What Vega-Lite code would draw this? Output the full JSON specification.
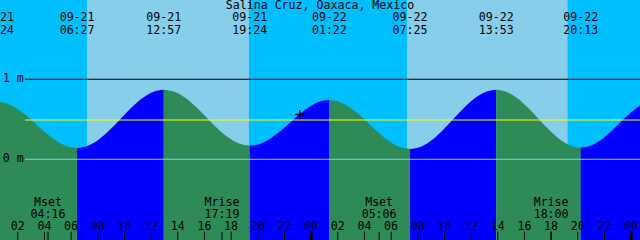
{
  "$schema": "https://vega.github.io/schema/vega-lite/v6.json",
  "width": 640,
  "height": 240,
  "padding": 0,
  "autosize": "none",
  "background": "#00BFFF",
  "config": {
    "view": {"stroke": null},
    "text": {"font": "DejaVu Sans Mono", "fontSize": 11.6, "color": "black"}
  },
  "datasets": {
    "tide": [
      {"h": 0.40, "v": 0.72, "seg": 1, "dir": "fall"},
      {"h": 1.16, "v": 0.698, "seg": 1, "dir": "fall"},
      {"h": 1.91, "v": 0.635, "seg": 1, "dir": "fall"},
      {"h": 2.67, "v": 0.541, "seg": 1, "dir": "fall"},
      {"h": 3.43, "v": 0.43, "seg": 1, "dir": "fall"},
      {"h": 4.18, "v": 0.319, "seg": 1, "dir": "fall"},
      {"h": 4.94, "v": 0.225, "seg": 1, "dir": "fall"},
      {"h": 5.69, "v": 0.162, "seg": 1, "dir": "fall"},
      {"h": 6.45, "v": 0.14, "seg": 1, "dir": "fall"},
      {"h": 6.45, "v": 0.14, "seg": 2, "dir": "rise"},
      {"h": 7.26, "v": 0.168, "seg": 2, "dir": "rise"},
      {"h": 8.08, "v": 0.247, "seg": 2, "dir": "rise"},
      {"h": 8.89, "v": 0.365, "seg": 2, "dir": "rise"},
      {"h": 9.70, "v": 0.505, "seg": 2, "dir": "rise"},
      {"h": 10.51, "v": 0.645, "seg": 2, "dir": "rise"},
      {"h": 11.33, "v": 0.763, "seg": 2, "dir": "rise"},
      {"h": 12.14, "v": 0.842, "seg": 2, "dir": "rise"},
      {"h": 12.95, "v": 0.87, "seg": 2, "dir": "rise"},
      {"h": 12.95, "v": 0.87, "seg": 3, "dir": "fall"},
      {"h": 13.76, "v": 0.843, "seg": 3, "dir": "fall"},
      {"h": 14.56, "v": 0.768, "seg": 3, "dir": "fall"},
      {"h": 15.37, "v": 0.654, "seg": 3, "dir": "fall"},
      {"h": 16.18, "v": 0.52, "seg": 3, "dir": "fall"},
      {"h": 16.98, "v": 0.386, "seg": 3, "dir": "fall"},
      {"h": 17.79, "v": 0.272, "seg": 3, "dir": "fall"},
      {"h": 18.59, "v": 0.197, "seg": 3, "dir": "fall"},
      {"h": 19.40, "v": 0.17, "seg": 3, "dir": "fall"},
      {"h": 19.40, "v": 0.17, "seg": 4, "dir": "rise"},
      {"h": 20.15, "v": 0.192, "seg": 4, "dir": "rise"},
      {"h": 20.89, "v": 0.253, "seg": 4, "dir": "rise"},
      {"h": 21.64, "v": 0.346, "seg": 4, "dir": "rise"},
      {"h": 22.39, "v": 0.455, "seg": 4, "dir": "rise"},
      {"h": 23.13, "v": 0.564, "seg": 4, "dir": "rise"},
      {"h": 23.88, "v": 0.657, "seg": 4, "dir": "rise"},
      {"h": 24.62, "v": 0.718, "seg": 4, "dir": "rise"},
      {"h": 25.37, "v": 0.74, "seg": 4, "dir": "rise"},
      {"h": 25.37, "v": 0.74, "seg": 5, "dir": "fall"},
      {"h": 26.13, "v": 0.717, "seg": 5, "dir": "fall"},
      {"h": 26.88, "v": 0.651, "seg": 5, "dir": "fall"},
      {"h": 27.64, "v": 0.552, "seg": 5, "dir": "fall"},
      {"h": 28.40, "v": 0.435, "seg": 5, "dir": "fall"},
      {"h": 29.15, "v": 0.318, "seg": 5, "dir": "fall"},
      {"h": 29.91, "v": 0.219, "seg": 5, "dir": "fall"},
      {"h": 30.66, "v": 0.153, "seg": 5, "dir": "fall"},
      {"h": 31.42, "v": 0.13, "seg": 5, "dir": "fall"},
      {"h": 31.42, "v": 0.13, "seg": 6, "dir": "rise"},
      {"h": 32.23, "v": 0.158, "seg": 6, "dir": "rise"},
      {"h": 33.04, "v": 0.238, "seg": 6, "dir": "rise"},
      {"h": 33.84, "v": 0.358, "seg": 6, "dir": "rise"},
      {"h": 34.65, "v": 0.50, "seg": 6, "dir": "rise"},
      {"h": 35.46, "v": 0.642, "seg": 6, "dir": "rise"},
      {"h": 36.27, "v": 0.762, "seg": 6, "dir": "rise"},
      {"h": 37.07, "v": 0.842, "seg": 6, "dir": "rise"},
      {"h": 37.88, "v": 0.87, "seg": 6, "dir": "rise"},
      {"h": 37.88, "v": 0.87, "seg": 7, "dir": "fall"},
      {"h": 38.67, "v": 0.842, "seg": 7, "dir": "fall"},
      {"h": 39.47, "v": 0.764, "seg": 7, "dir": "fall"},
      {"h": 40.26, "v": 0.646, "seg": 7, "dir": "fall"},
      {"h": 41.05, "v": 0.508, "seg": 7, "dir": "fall"},
      {"h": 41.84, "v": 0.369, "seg": 7, "dir": "fall"},
      {"h": 42.64, "v": 0.251, "seg": 7, "dir": "fall"},
      {"h": 43.43, "v": 0.173, "seg": 7, "dir": "fall"},
      {"h": 44.22, "v": 0.145, "seg": 7, "dir": "fall"},
      {"h": 44.22, "v": 0.145, "seg": 8, "dir": "rise"},
      {"h": 44.94, "v": 0.168, "seg": 8, "dir": "rise"},
      {"h": 45.67, "v": 0.234, "seg": 8, "dir": "rise"},
      {"h": 46.39, "v": 0.332, "seg": 8, "dir": "rise"},
      {"h": 47.11, "v": 0.448, "seg": 8, "dir": "rise"},
      {"h": 47.83, "v": 0.563, "seg": 8, "dir": "rise"},
      {"h": 48.56, "v": 0.661, "seg": 8, "dir": "rise"},
      {"h": 49.28, "v": 0.727, "seg": 8, "dir": "rise"},
      {"h": 50.0, "v": 0.75, "seg": 8, "dir": "rise"}
    ],
    "sky": [
      {"start": 0.0, "end": 7.19, "period": "night"},
      {"start": 7.19, "end": 19.34, "period": "day"},
      {"start": 19.34, "end": 31.19, "period": "night"},
      {"start": 31.19, "end": 43.25, "period": "day"},
      {"start": 43.25, "end": 50.0, "period": "night"}
    ],
    "events": [
      {"h": 0.40, "date": "09-21", "time": "00:24"},
      {"h": 6.45, "date": "09-21", "time": "06:27"},
      {"h": 12.95, "date": "09-21", "time": "12:57"},
      {"h": 19.40, "date": "09-21", "time": "19:24"},
      {"h": 25.37, "date": "09-22", "time": "01:22"},
      {"h": 31.42, "date": "09-22", "time": "07:25"},
      {"h": 37.88, "date": "09-22", "time": "13:53"},
      {"h": 44.22, "date": "09-22", "time": "20:13"}
    ],
    "moon": [
      {"h": 4.267, "ev": "Mset", "time": "04:16"},
      {"h": 17.317, "ev": "Mrise", "time": "17:19"},
      {"h": 29.1, "ev": "Mset", "time": "05:06"},
      {"h": 42.0, "ev": "Mrise", "time": "18:00"}
    ],
    "ticks": [
      {"h": 2, "lab": "02"}, {"h": 4, "lab": "04"}, {"h": 6, "lab": "06"},
      {"h": 8, "lab": "08"}, {"h": 10, "lab": "10"}, {"h": 12, "lab": "12"},
      {"h": 14, "lab": "14"}, {"h": 16, "lab": "16"}, {"h": 18, "lab": "18"},
      {"h": 20, "lab": "20"}, {"h": 22, "lab": "22"}, {"h": 24, "lab": "00"},
      {"h": 26, "lab": "02"}, {"h": 28, "lab": "04"}, {"h": 30, "lab": "06"},
      {"h": 32, "lab": "08"}, {"h": 34, "lab": "10"}, {"h": 36, "lab": "12"},
      {"h": 38, "lab": "14"}, {"h": 40, "lab": "16"}, {"h": 42, "lab": "18"},
      {"h": 44, "lab": "20"}, {"h": 46, "lab": "22"}, {"h": 48, "lab": "00"}
    ],
    "now": [{"h": 23.15, "v": 0.56}],
    "levels": [{"name": "1 m", "v": 1}, {"name": "0 m", "v": 0}],
    "one": [{"title": "Salina Cruz, Oaxaca, Mexico"}]
  },
  "resolve": {"scale": {"color": "independent"}},
  "layer": [
    {
      "data": {"name": "sky"},
      "mark": {"type": "rect", "clip": true},
      "encoding": {
        "x": {"field": "start", "type": "quantitative", "scale": {"domain": [0.667, 48.667], "nice": false, "zero": false}, "axis": null},
        "x2": {"field": "end"},
        "color": {"field": "period", "type": "nominal", "scale": {"domain": ["night", "day"], "range": ["#00BFFF", "#87CEEB"]}, "legend": null}
      }
    },
    {
      "data": {"name": "tide"},
      "mark": {"type": "area", "clip": true, "interpolate": "monotone", "opacity": 1},
      "encoding": {
        "x": {"field": "h", "type": "quantitative", "scale": {"domain": [0.667, 48.667], "nice": false, "zero": false}, "axis": null},
        "y": {"field": "v", "type": "quantitative", "scale": {"domain": [-1.009, 1.991], "nice": false, "zero": false}, "axis": null},
        "y2": {"datum": -1.009},
        "detail": {"field": "seg"},
        "color": {"field": "dir", "type": "nominal", "scale": {"domain": ["fall", "rise"], "range": ["#2E8B57", "#0000FF"]}, "legend": null}
      }
    },
    {
      "data": {"name": "one"},
      "mark": {"type": "rule", "color": "#87CEEB", "strokeWidth": 1},
      "encoding": {"x": {"datum": 2.54}, "x2": {"datum": 48.667}, "y": {"datum": 0}}
    },
    {
      "data": {"name": "one"},
      "mark": {"type": "rule", "color": "black", "strokeWidth": 1},
      "encoding": {"x": {"datum": 2.54}, "x2": {"datum": 48.667}, "y": {"datum": 1}}
    },
    {
      "data": {"name": "one"},
      "mark": {"type": "rule", "color": "#FFFF00", "strokeWidth": 1},
      "encoding": {"x": {"datum": 2.54}, "x2": {"datum": 48.667}, "y": {"datum": 0.491}}
    },
    {
      "data": {"name": "levels"},
      "mark": {"type": "text", "align": "left", "baseline": "middle"},
      "encoding": {"x": {"datum": 0.87}, "y": {"field": "v", "type": "quantitative"}, "text": {"field": "name"}}
    },
    {
      "data": {"name": "ticks"},
      "mark": {"type": "rule", "color": "black", "strokeWidth": 1},
      "encoding": {"x": {"field": "h", "type": "quantitative"}, "y": {"datum": -0.905}, "y2": {"datum": -1.009}}
    },
    {
      "data": {"name": "ticks"},
      "transform": [{"filter": "datum.h % 24 == 0"}],
      "mark": {"type": "rule", "color": "black", "strokeWidth": 3},
      "encoding": {"x": {"field": "h", "type": "quantitative"}, "y": {"datum": -0.905}, "y2": {"datum": -1.009}}
    },
    {
      "data": {"name": "moon"},
      "mark": {"type": "rule", "color": "black", "strokeWidth": 1},
      "encoding": {"x": {"field": "h", "type": "quantitative"}, "y": {"datum": -0.905}, "y2": {"datum": -1.009}}
    },
    {
      "data": {"name": "ticks"},
      "mark": {"type": "text", "align": "center", "baseline": "alphabetic"},
      "encoding": {"x": {"field": "h", "type": "quantitative"}, "y": {"datum": -0.884}, "text": {"field": "lab"}}
    },
    {
      "data": {"name": "moon"},
      "mark": {"type": "text", "align": "center", "baseline": "alphabetic"},
      "encoding": {"x": {"field": "h", "type": "quantitative"}, "y": {"datum": -0.584}, "text": {"field": "ev"}}
    },
    {
      "data": {"name": "moon"},
      "mark": {"type": "text", "align": "center", "baseline": "alphabetic"},
      "encoding": {"x": {"field": "h", "type": "quantitative"}, "y": {"datum": -0.74}, "text": {"field": "time"}}
    },
    {
      "data": {"name": "events"},
      "mark": {"type": "text", "align": "center", "baseline": "alphabetic"},
      "encoding": {"x": {"field": "h", "type": "quantitative"}, "y": {"datum": 1.729}, "text": {"field": "date"}}
    },
    {
      "data": {"name": "events"},
      "mark": {"type": "text", "align": "center", "baseline": "alphabetic"},
      "encoding": {"x": {"field": "h", "type": "quantitative"}, "y": {"datum": 1.566}, "text": {"field": "time"}}
    },
    {
      "data": {"name": "one"},
      "mark": {"type": "text", "align": "center", "baseline": "alphabetic"},
      "encoding": {"x": {"datum": 24.667}, "y": {"datum": 1.8725}, "text": {"field": "title"}}
    },
    {
      "data": {"name": "now"},
      "mark": {"type": "point", "shape": "M-1,0L1,0M0,-1L0,1", "filled": false, "color": "black", "strokeWidth": 1.5, "size": 81, "opacity": 1},
      "encoding": {"x": {"field": "h", "type": "quantitative"}, "y": {"field": "v", "type": "quantitative"}}
    }
  ]
}
